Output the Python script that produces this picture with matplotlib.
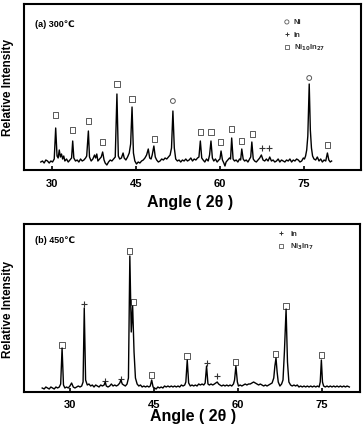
import matplotlib
matplotlib.use("Agg")
import matplotlib.pyplot as plt

plt.rcParams['font.family'] = ['Liberation Sans', 'DejaVu Sans']
plt.rcParams['font.weight'] = 'bold'

# ---------------- Panel (a) 300 C trace (angle, relative intensity) ----------------
angle_a = [28.0, 28.3, 28.6, 28.9, 29.2, 29.5, 29.8, 30.1, 30.4, 30.66, 30.9, 31.1, 31.3, 31.5, 31.7,
           31.9, 32.1, 32.3, 32.6, 32.9, 33.2, 33.5, 33.7, 33.9, 34.2, 34.5, 34.8, 35.1, 35.4, 35.7,
           36.0, 36.2, 36.5, 36.7, 37.0, 37.3, 37.6, 37.8, 38.0, 38.2, 38.5, 38.8, 39.05, 39.3, 39.5,
           39.8, 40.1, 40.4, 40.7, 41.0, 41.3, 41.6, 41.85, 42.1, 42.4, 42.7, 42.9, 43.2, 43.5, 43.8,
           44.05, 44.3, 44.55, 44.8, 45.1, 45.4, 45.7, 46.0, 46.3, 46.6, 46.9, 47.2, 47.45, 47.7, 47.9,
           48.2, 48.45, 48.7, 49.0, 49.3, 49.6, 49.9, 50.2, 50.5, 50.8, 51.1, 51.35, 51.6, 51.85, 52.1,
           52.4, 52.7, 53.0, 53.3, 53.6, 53.9, 54.2, 54.5, 54.8, 55.1, 55.4, 55.7, 56.0, 56.25, 56.5,
           56.75, 57.0, 57.3, 57.6, 57.9, 58.15, 58.4, 58.65, 58.9, 59.2, 59.5, 59.8, 60.0, 60.2, 60.45,
           60.7, 60.9, 61.1, 61.4, 61.7, 61.9, 62.1, 62.35, 62.6, 62.9, 63.2, 63.5, 63.7, 63.9, 64.15,
           64.4, 64.7, 65.0, 65.3, 65.5, 65.7, 65.95, 66.2, 66.5, 66.8, 67.1, 67.4, 67.7, 68.0, 68.3,
           68.6, 68.9, 69.2, 69.5, 69.8, 70.1, 70.4, 70.7, 71.0, 71.3, 71.6, 71.9, 72.2, 72.5, 72.8,
           73.1, 73.4, 73.7, 74.0, 74.3, 74.6, 74.9, 75.1, 75.3, 75.5, 75.7, 75.95, 76.15, 76.35, 76.55,
           76.8, 77.1, 77.4, 77.7, 78.0, 78.3, 78.6, 78.9, 79.2, 79.45, 79.7, 79.95]
inten_a = [8, 9, 7, 10, 9, 7, 9, 8, 11, 42, 14, 12, 20, 13, 16,
           11, 14, 9, 11, 8, 10, 12, 29, 12, 9, 10, 8, 11, 9, 10,
           12, 14, 39, 13, 9, 11, 15, 12, 16, 9, 11, 13, 18, 10, 7,
           5, 8, 10, 9, 11, 13, 76, 14, 11, 12, 17, 12, 10, 13, 17,
           26, 63, 17, 9, 6, 8, 7, 9, 10, 12, 15, 21, 12, 11, 15,
           24, 13, 10, 8, 9, 11, 10, 12, 11, 13, 15, 22, 59, 22, 11,
           9, 10, 8, 10, 9, 11, 9, 10, 12, 9, 11, 10, 12, 13, 29,
           12, 10, 8, 11, 9, 15, 29, 12, 9, 11, 8, 10, 11, 19, 10,
           7, 4, 8, 10, 12, 11, 32, 11, 9, 10, 8, 11, 10, 21, 11,
           9, 10, 8, 11, 13, 28, 11, 9, 8, 10, 12, 15, 10, 9, 11,
           9, 13, 9, 10, 8, 9, 11, 8, 10, 9, 8, 10, 9, 11, 8,
           10, 9, 11, 10, 8, 9, 12, 11, 14, 20, 34, 86, 40, 22, 14,
           11, 10, 13, 9, 11, 8, 10, 9, 17, 10, 8, 9]

# phase markers (a)
ni_a_x = [51.6, 75.95]
ni_a_y = [69, 92]
in_a_x = [67.45, 68.7]
in_a_y = [22, 22]
nin_a_x = [30.66, 33.7, 36.55, 39.05, 41.6, 44.3, 48.3, 56.5, 58.4, 60.1, 62.1, 63.9, 65.75, 79.2]
nin_a_y = [55, 40, 49, 28, 86, 71, 31, 38, 38, 28, 41, 29, 36, 25]

# ---------------- Panel (b) 450 C trace ----------------
angle_b = [25.05, 25.4, 25.7, 26.0, 26.3, 26.6, 26.9, 27.2, 27.5, 27.8, 28.1, 28.35, 28.6, 28.85, 29.1,
           29.4, 29.7, 30.0, 30.3, 30.6, 30.9, 31.2, 31.5, 31.8, 32.1, 32.35, 32.56, 32.8, 33.1, 33.4,
           33.7, 34.0, 34.3, 34.6, 34.9, 35.2, 35.5, 35.8, 36.1, 36.3, 36.5, 36.8, 37.1, 37.4, 37.7,
           38.0, 38.3, 38.6, 38.9, 39.1, 39.35, 39.6, 39.9, 40.2, 40.45, 40.7, 40.95, 41.2, 41.45, 41.7,
           42.0, 42.3, 42.6, 42.9, 43.2, 43.5, 43.8, 44.1, 44.35, 44.6, 44.85, 45.1, 45.4, 45.7, 46.0,
           46.3, 46.6, 46.9, 47.2, 47.5, 47.8, 48.1, 48.4, 48.7, 49.0, 49.3, 49.6, 49.9, 50.2, 50.5,
           50.7, 50.95, 51.2, 51.5, 51.8, 52.1, 52.4, 52.7, 53.0, 53.3, 53.6, 53.9, 54.15, 54.4, 54.65,
           54.9, 55.2, 55.5, 55.8, 56.05, 56.3, 56.55, 56.8, 57.1, 57.4, 57.7, 58.0, 58.3, 58.6, 58.9,
           59.2, 59.4, 59.64, 59.9, 60.1, 60.4, 60.7, 61.0, 61.3, 61.6, 61.9, 62.2, 62.5, 62.8, 63.1,
           63.4, 63.7, 64.0, 64.3, 64.6, 64.9, 65.2, 65.5, 65.8, 66.1, 66.4, 66.6, 66.8, 67.0, 67.2,
           67.5, 67.8, 68.05, 68.3, 68.6, 68.85, 69.1, 69.4, 69.7, 70.0, 70.3, 70.6, 70.9, 71.2, 71.5,
           71.8, 72.1, 72.4, 72.7, 73.0, 73.3, 73.6, 73.9, 74.2, 74.5, 74.7, 74.9, 75.1, 75.3, 75.6,
           75.9, 76.2, 76.5, 76.8, 77.1, 77.4, 77.7, 78.0, 78.3, 78.6, 78.9, 79.2, 79.5, 79.9]
inten_b = [4, 3, 5, 4, 3, 5, 4, 3, 5, 4, 5, 8, 44, 7, 4,
           5, 4, 6, 9, 5, 4, 5, 6, 5, 6, 10, 84, 12, 7, 8,
           6, 7, 5, 7, 6, 5, 7, 6, 7, 10, 6, 5, 6, 8, 6,
           7, 6, 7, 9, 12, 8, 7, 6, 8, 14, 136, 60, 86, 40, 14,
           8, 6, 7, 5, 6, 5, 6, 5, 6, 12, 5, 4, 3, 5, 4,
           5, 4, 6, 5, 6, 5, 6, 5, 6, 5, 6, 5, 7, 6, 7,
           10, 32, 9, 6, 7, 6, 7, 6, 8, 7, 8, 7, 9, 26, 8,
           7, 8, 7, 8, 9, 10, 8, 7, 6, 7, 6, 7, 6, 7, 6,
           8, 12, 26, 10, 6, 7, 6, 7, 8, 7, 8, 8, 9, 10, 9,
           8, 7, 8, 7, 6, 7, 6, 7, 8, 9, 14, 26, 34, 20, 10,
           6, 8, 12, 40, 83, 30, 10, 7, 6, 7, 6, 7, 5, 6, 5,
           6, 5, 6, 5, 6, 5, 6, 5, 6, 5, 10, 32, 10, 6, 5,
           6, 5, 6, 5, 6, 5, 6, 5, 6, 5, 6, 5, 6, 5]

in_b_x = [32.56, 36.3, 39.1, 54.4, 56.3]
in_b_y = [88, 11, 13, 29, 16]
nin_b_x = [28.6, 40.6, 41.3, 44.6, 50.9, 59.6, 66.75, 68.6, 74.9]
nin_b_y = [47, 141, 90, 17, 36, 30, 38, 86, 37]

ticks = [30, 45, 60, 75]
xlab = "Angle ( 2\u03b8 )"

W, H = 364, 427
fig = plt.figure(figsize=(W / 100, H / 100), dpi=100)

def frac_rect(l, r, t, b):
    return [l / W, 1 - b / H, (r - l) / W, (b - t) / H]

ax_a = fig.add_axes(frac_rect(24, 361, 5, 171))
ax_b = fig.add_axes(frac_rect(24, 360, 225, 393))

mk_col = '0.35'
for ax in (ax_a, ax_b):
    for s in ax.spines.values():
        s.set_linewidth(1.5)
    ax.set_yticks([])
    ax.set_xticks(ticks)
    ax.tick_params(axis='x', direction='in', length=3, width=1.2, labelsize=8)
    for lab in ax.get_xticklabels():
        lab.set_fontweight('bold')

# panel a
ax_a.plot(angle_a, inten_a, color='black', lw=1.0)
ax_a.set_xlim(25.0, 85.2)
ax_a.set_ylim(0, 166)
ax_a.tick_params(axis='x', pad=5.5)
ax_a.scatter(nin_a_x, nin_a_y, marker='s', s=14, facecolors='none', edgecolors=mk_col, linewidths=0.7)
ax_a.scatter(ni_a_x, ni_a_y, marker='o', s=12, facecolors='none', edgecolors=mk_col, linewidths=0.7)
ax_a.scatter(in_a_x, in_a_y, marker='+', s=14, color='0.2', linewidths=0.8)
ax_a.text(0.033, 0.88, "(a) 300\u2103", transform=ax_a.transAxes, fontsize=6.5, fontweight='bold', va='center', ha='left')
# legend a
ax_a.scatter([0.780], [0.892], transform=ax_a.transAxes, marker='o', s=9, facecolors='none', edgecolors=mk_col, linewidths=0.6)
ax_a.scatter([0.780], [0.819], transform=ax_a.transAxes, marker='+', s=12, color='0.2', linewidths=0.7)
ax_a.scatter([0.780], [0.741], transform=ax_a.transAxes, marker='s', s=10, facecolors='none', edgecolors=mk_col, linewidths=0.6)
ax_a.text(0.800, 0.892, "Ni", transform=ax_a.transAxes, fontsize=5.5, fontweight='bold', va='center', color='0.2')
ax_a.text(0.800, 0.819, "In", transform=ax_a.transAxes, fontsize=5.5, fontweight='bold', va='center', color='0.2')
ax_a.text(0.800, 0.741, "Ni$_{10}$In$_{27}$", transform=ax_a.transAxes, fontsize=5.5, fontweight='bold', va='center', color='0.2')

# panel b
ax_b.plot(angle_b, inten_b, color='black', lw=1.0)
ax_b.set_xlim(21.8, 81.8)
ax_b.set_ylim(0, 168)
ax_b.tick_params(axis='x', pad=5)
ax_b.scatter(nin_b_x, nin_b_y, marker='s', s=14, facecolors='none', edgecolors=mk_col, linewidths=0.7)
ax_b.scatter(in_b_x, in_b_y, marker='+', s=14, color='0.2', linewidths=0.8)
ax_b.text(0.033, 0.905, "(b) 450\u2103", transform=ax_b.transAxes, fontsize=6.5, fontweight='bold', va='center', ha='left')
ax_b.scatter([0.765], [0.946], transform=ax_b.transAxes, marker='+', s=12, color='0.2', linewidths=0.7)
ax_b.scatter([0.765], [0.869], transform=ax_b.transAxes, marker='s', s=10, facecolors='none', edgecolors=mk_col, linewidths=0.6)
ax_b.text(0.792, 0.946, "In", transform=ax_b.transAxes, fontsize=5.5, fontweight='bold', va='center', color='0.2')
ax_b.text(0.792, 0.869, "Ni$_3$In$_7$", transform=ax_b.transAxes, fontsize=5.5, fontweight='bold', va='center', color='0.2')

# axis labels
fig.text(190 / W, 1 - 202 / H, xlab, fontsize=11.5, fontweight='bold', ha='center', va='center')
fig.text(193 / W, 1 - 417 / H, xlab, fontsize=11.5, fontweight='bold', ha='center', va='center')
fig.text(8 / W, 1 - 87 / H, "Relative Intensity", rotation=90, fontsize=8.5, fontweight='bold', ha='center', va='center')
fig.text(8 / W, 1 - 309 / H, "Relative Intensity", rotation=90, fontsize=8.5, fontweight='bold', ha='center', va='center')

fig.savefig("out.png", dpi=100, facecolor='white')
